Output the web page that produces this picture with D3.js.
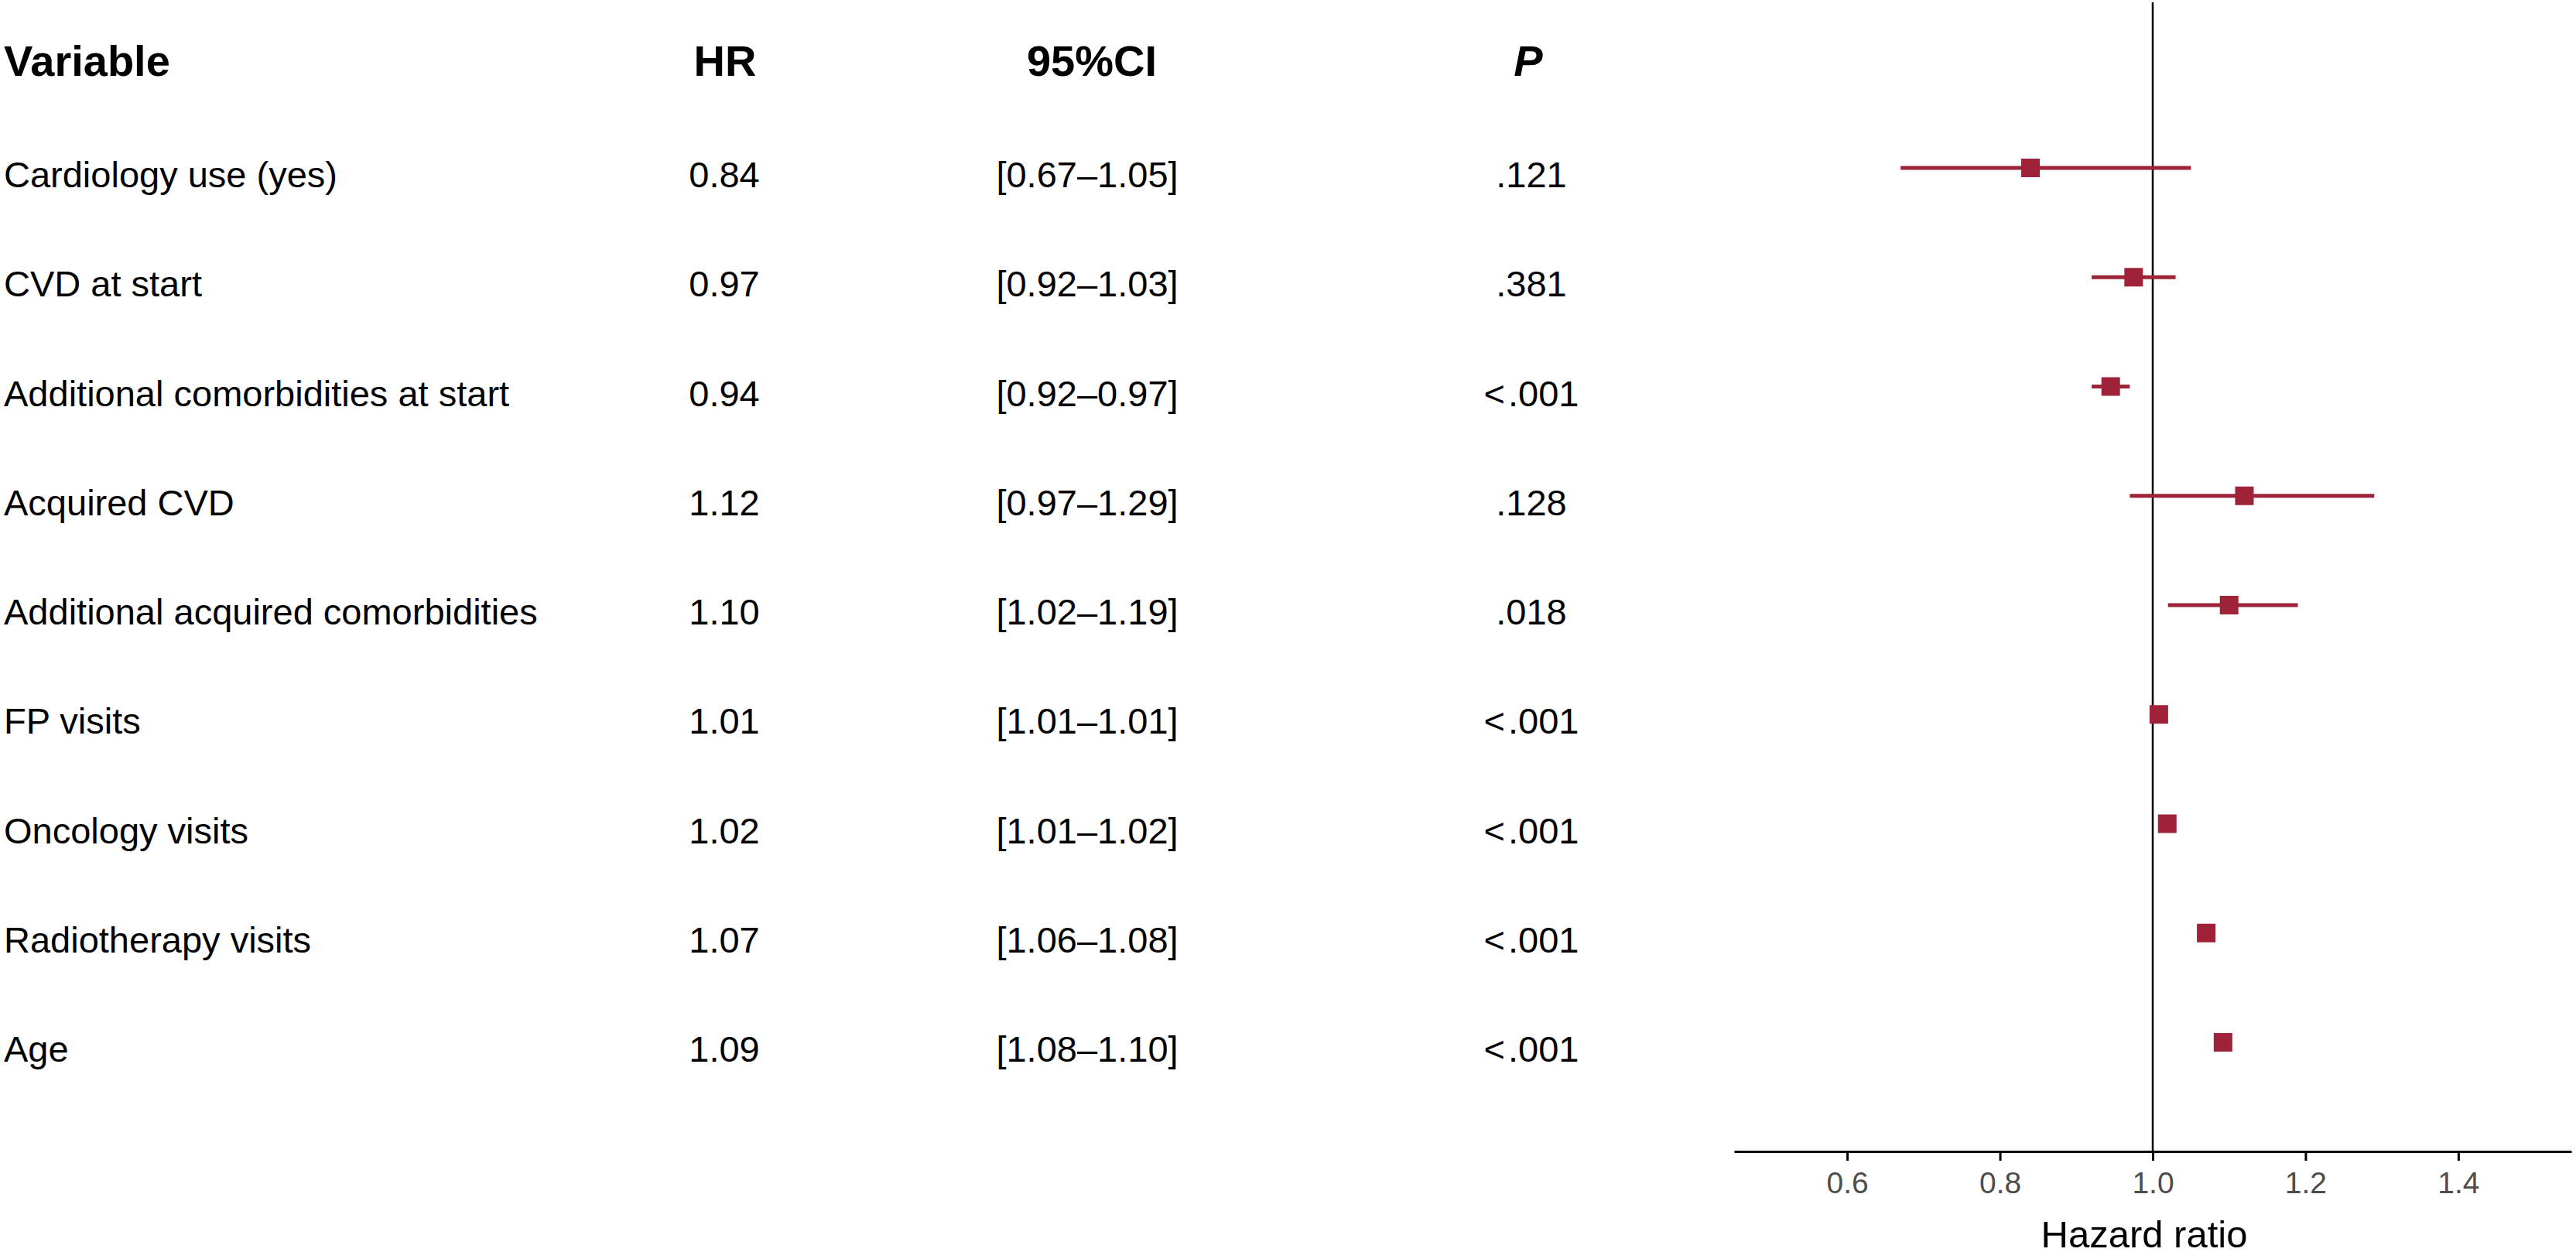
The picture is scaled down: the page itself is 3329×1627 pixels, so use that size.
<!DOCTYPE html>
<html>
<head>
<meta charset="utf-8">
<script src="https://cdn.jsdelivr.net/npm/d3@7"></script>
<style>
  html, body { margin: 0; padding: 0; background: #fff; }
  svg { display: block; }
  text { font-family: "Liberation Sans", Arial, Helvetica, sans-serif; }
</style>
</head>
<body>
<svg id="chart" width="3329" height="1627"></svg>
<script>
// ---- data ----
const variables = [
  "Cardiology use (yes)",
  "CVD at start",
  "Additional comorbidities at start",
  "Acquired CVD",
  "Additional acquired comorbidities",
  "FP visits",
  "Oncology visits",
  "Radiotherapy visits",
  "Age"
];
const hr    = [0.84, 0.975, 0.945, 1.12, 1.10, 1.008, 1.019, 1.07, 1.092];
const lower = [0.67, 0.92, 0.92, 0.97, 1.02, 1.01, 1.01, 1.06, 1.08];
const upper = [1.05, 1.03, 0.97, 1.29, 1.19, 1.01, 1.02, 1.08, 1.10];
const hrText = ["0.84", "0.97", "0.94", "1.12", "1.10", "1.01", "1.02", "1.07", "1.09"];
const ciText = ["[0.67\u20131.05]", "[0.92\u20131.03]", "[0.92\u20130.97]", "[0.97\u20131.29]",
                "[1.02\u20131.19]", "[1.01\u20131.01]", "[1.01\u20131.02]", "[1.06\u20131.08]", "[1.08\u20131.10]"];
const pText = [".121", ".381", "<\u200A.001", ".128", ".018", "<\u200A.001", "<\u200A.001", "<\u200A.001", "<\u200A.001"];
const headers = ["Variable", "HR", "95%CI", "P"];
const xTicks = [0.6, 0.8, 1.0, 1.2, 1.4];
const xTitle = "Hazard ratio";

// ---- layout ----
const svg = d3.select("#chart");
const color = "#9E2339";
const axisY = 1488;

const x = d3.scaleLinear().domain([0.452, 1.548]).range([2241, 3323]);
const y = d3.scalePoint().domain(variables).range([217, 1347]);

const rows = variables.map((v, i) => ({
  v, hr: hr[i], lo: lower[i], hi: upper[i], hrT: hrText[i], ciT: ciText[i], pT: pText[i]
}));

// headers
const headG = svg.append("g").attr("font-weight", "bold").attr("font-size", 56).attr("fill", "#000");
headG.append("text").attr("x", 5).attr("y", 98).text(headers[0]);
headG.append("text").attr("x", 937).attr("y", 98).attr("text-anchor", "middle").text(headers[1]);
headG.append("text").attr("x", 1411).attr("y", 98).attr("text-anchor", "middle").text(headers[2]);
headG.append("text").attr("x", 1975).attr("y", 98).attr("text-anchor", "middle")
  .attr("font-style", "italic").text(headers[3]);

// table rows
const tG = svg.append("g").attr("font-size", 47).attr("fill", "#000");
tG.selectAll("text.var").data(rows).join("text").attr("class", "var")
  .attr("x", 5).attr("y", d => y(d.v) + 25).text(d => d.v);
tG.selectAll("text.hr").data(rows).join("text").attr("class", "hr")
  .attr("x", 936).attr("y", d => y(d.v) + 25).attr("text-anchor", "middle").text(d => d.hrT);
tG.selectAll("text.ci").data(rows).join("text").attr("class", "ci")
  .attr("x", 1405).attr("y", d => y(d.v) + 25).attr("text-anchor", "middle").text(d => d.ciT);
tG.selectAll("text.p").data(rows).join("text").attr("class", "p")
  .attr("x", 1979).attr("y", d => y(d.v) + 25).attr("text-anchor", "middle").text(d => d.pT);

// x axis
const axis = d3.axisBottom(x).tickValues(xTicks).tickFormat(d3.format(".1f"))
  .tickSize(12).tickSizeOuter(0).tickPadding(14);
const axG = svg.append("g").attr("transform", `translate(0,${axisY})`).call(axis);
axG.select(".domain").attr("stroke", "#000").attr("stroke-width", 3);
axG.selectAll(".tick line").attr("stroke", "#000").attr("stroke-width", 3);
axG.selectAll(".tick text").attr("font-size", 39).attr("fill", "#4D4D4D")
  .attr("font-family", "'Liberation Sans', Arial, sans-serif");

svg.append("text").attr("x", 2771).attr("y", 1612).attr("text-anchor", "middle")
  .attr("font-size", 49).attr("fill", "#000").text(xTitle);

// reference line at HR = 1
svg.append("line").attr("x1", x(1)).attr("x2", x(1)).attr("y1", 3).attr("y2", axisY)
  .attr("stroke", "#000").attr("stroke-width", 2.5);

// CI lines
svg.append("g").selectAll("line").data(rows).join("line")
  .attr("x1", d => x(d.lo)).attr("x2", d => x(d.hi))
  .attr("y1", d => y(d.v)).attr("y2", d => y(d.v))
  .attr("stroke", color).attr("stroke-width", 5);

// point estimates
const s = 24;
svg.append("g").selectAll("rect").data(rows).join("rect")
  .attr("x", d => x(d.hr) - s / 2).attr("y", d => y(d.v) - s / 2)
  .attr("width", s).attr("height", s).attr("fill", color);
</script>
</body>
</html>
